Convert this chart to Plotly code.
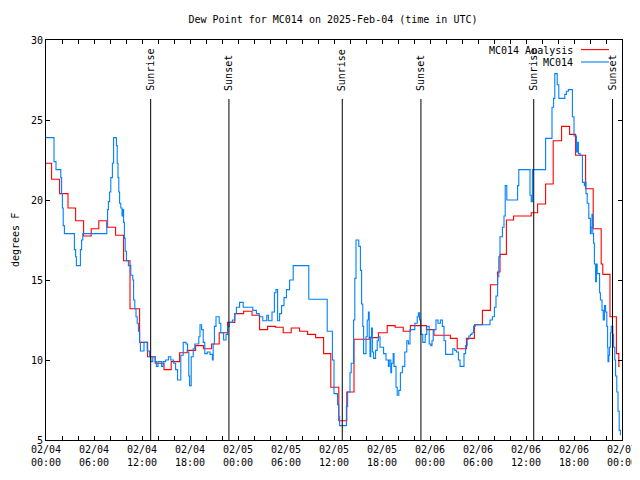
import plotly.graph_objects as go
import pandas as pd

# ---- data (hours after 2025-02-04 00:00 UTC, dew point in deg F) ----
analysis_hours = [0, 0.7, 1.7, 2.75, 3.7, 4.7, 5.65, 6.6, 7.6, 8.7, 9.7, 10.5, 11.7, 12.7,
                  13.65, 14.75, 15.65, 16.7, 17.65, 18.7, 19.7, 20.7, 21.65, 22.7, 23.6,
                  24.7, 25.75, 26.7, 27.7, 28.7, 29.65, 30.65, 31.7, 32.7, 33.7, 34.7,
                  35.6, 36.6, 37.6, 38.5, 40.4, 41.55, 42.65, 43.65, 44.65, 45.55, 47.55,
                  48.5, 50.55, 51.4, 52.55, 53.55, 54.55, 55.55, 56.45, 56.75, 57.55,
                  58.45, 60.65, 61.45, 62.45, 63.4, 64.45, 65.45, 66.2, 67.45, 68.4,
                  69.4, 69.6, 70.5, 71.3, 71.6, 71.7]
analysis_values = [22.3, 21.3, 20.4, 19.5, 18.7, 17.75, 18.2, 18.7, 18.3, 17.8, 16.2, 13.2,
                   11.1, 10.2, 9.8, 9.4, 9.9, 10.45, 10.6, 10.9, 10.7, 11.0, 11.7, 12.35,
                   12.9, 13.05, 12.8, 11.9, 12.1, 12.05, 11.7, 12.0, 11.8, 11.6, 11.4,
                   10.4, 8.3, 6.2, 8.0, 11.3, 11.4, 11.7, 12.15, 12.05, 11.8, 12.15, 11.9,
                   11.55, 11.35, 10.7, 11.35, 12.2, 13.1, 14.7, 15.5, 16.6, 18.75, 19.0,
                   19.2, 19.75, 21.0, 23.7, 24.6, 24.1, 22.8, 20.7, 18.2, 16.0, 15.35,
                   12.7, 10.4, 9.6, 9.6]

station_hours = [0.0, 1.0, 1.25, 1.85, 1.95, 2.05, 2.15, 2.3, 3.55, 3.7, 3.8, 4.3, 4.45, 4.6,
                 7.6, 7.7, 7.8, 7.95, 8.1, 8.3, 8.45, 8.8, 8.9, 9.0, 9.1, 9.2, 9.35, 9.5,
                 9.6, 9.7, 9.8, 9.9, 10.05, 10.3, 10.6, 10.85, 10.95, 11.1, 11.25, 11.4,
                 11.55, 11.7, 11.8, 12.25, 12.65, 12.95, 13.1, 13.35, 13.65, 13.8, 14.0,
                 14.45, 14.65, 14.95, 15.3, 15.6, 15.95, 16.2, 16.45, 16.85, 17.15, 17.5,
                 17.7, 17.85, 17.95, 18.15, 18.4, 18.6, 19.1, 19.25, 19.45, 19.65, 19.85,
                 20.15, 20.5, 20.8, 20.9, 21.05, 21.25, 21.65, 21.85, 22.2, 22.5, 22.7,
                 22.9, 23.3, 23.6, 23.8, 24.2, 24.65, 25.85, 26.3, 26.65, 27.1, 27.6, 27.8,
                 28.25, 28.55, 28.75, 28.95, 29.2, 29.45, 29.75, 30.05, 30.45, 30.9, 32.85,
                 35.15, 35.8, 36.0, 36.45, 36.6, 36.7, 37.55, 37.7, 38.0, 38.15, 38.45,
                 38.6, 38.75, 39.1, 39.3, 39.45, 39.6, 39.7, 40.0, 40.15, 40.3, 40.4, 40.5,
                 40.6, 40.7, 40.8, 40.95, 41.2, 41.4, 41.55, 41.75, 42.2, 42.5, 42.8, 42.9,
                 43.1, 43.2, 43.4, 43.5, 43.75, 43.9, 44.1, 44.3, 44.55, 44.85, 45.1, 45.3,
                 45.5, 46.1, 46.4, 46.55, 46.7, 46.85, 47.1, 47.4, 47.6, 47.9, 48.1, 48.25,
                 48.4, 48.75, 49.0, 49.3, 49.55, 49.75, 49.95, 50.85, 51.1, 51.3, 51.55,
                 51.75, 52.25, 52.45, 52.65, 52.85, 53.05, 53.25, 53.45, 53.65, 55.5, 55.8,
                 56.05, 56.25, 56.45, 56.6, 56.75, 57.05, 57.25, 57.4, 57.6, 58.95, 59.1,
                 60.5, 60.65, 60.8, 62.45, 63.25, 63.45, 63.6, 63.9, 64.1, 64.85, 65.05,
                 65.3, 65.8, 66.0, 66.3, 66.45, 66.55, 66.75, 67.05, 67.3, 67.4, 67.5,
                 67.65, 67.85, 68.05, 68.15, 68.25, 68.35, 68.45, 68.55, 68.7, 68.8, 68.9,
                 69.2, 69.3, 69.5, 69.65, 69.8, 69.95, 70.1, 70.2, 70.25, 70.35, 70.45,
                 70.55, 70.65, 70.85, 70.95, 71.1, 71.2, 71.35, 71.5, 71.65, 71.8]
station_values = [23.9, 22.4, 21.9, 21.4, 20.4, 19.5, 18.4, 17.9, 16.9, 16.45, 15.9, 16.9,
                  17.5, 17.9, 18.3, 19.4, 19.9, 20.5, 21.4, 22.3, 23.9, 23.4, 22.3, 21.4,
                  20.5, 19.8, 19.5, 19.0, 19.4, 18.6, 17.6, 16.8, 16.2, 15.9, 15.3, 15.0,
                  13.75, 13.2, 12.7, 12.3, 11.8, 11.1, 10.56, 11.1, 10.56, 10.2, 9.9, 10.2,
                  9.9, 9.6, 9.9, 9.6, 9.9, 10.0, 10.2, 10.0, 9.8, 9.4, 8.75, 10.3, 11.1,
                  11.0, 10.5, 9.0, 8.4, 10.2, 10.7, 11.0, 11.45, 12.2, 11.9, 11.1, 10.4,
                  10.5, 10.35, 10.0, 11.0, 12.1, 12.7, 12.3, 11.7, 11.25, 11.6, 12.1, 12.35,
                  12.5, 12.9, 13.3, 13.6, 13.3, 13.1, 12.9, 12.7, 12.45, 12.8, 12.45, 13.0,
                  14.2, 14.4, 12.45, 12.9, 13.4, 13.9, 14.4, 15.0, 15.9, 13.8, 11.8, 10.0,
                  7.9, 7.2, 6.45, 5.9, 7.1, 8.0, 9.2, 9.8, 12.5, 15.1, 17.5, 17.1, 15.6,
                  13.5, 12.1, 10.4, 11.45, 12.5, 13.0, 11.45, 10.2, 11.4, 12.0, 10.5, 10.1,
                  10.6, 11.2, 11.45, 10.8, 10.4, 10.0, 9.6, 10.0, 9.2, 9.8, 10.4, 9.6, 8.3,
                  7.8, 8.1, 9.2, 9.6, 10.5, 11.2, 11.0, 11.9, 12.3, 12.7, 12.95, 12.5, 11.6,
                  11.1, 11.6, 12.1, 11.0, 10.9, 11.2, 11.9, 12.5, 12.3, 12.5, 12.1, 11.2,
                  10.35, 10.7, 10.6, 10.5, 10.0, 9.6, 10.4, 10.9, 11.3, 11.5, 11.6, 11.7,
                  12.1, 12.2, 12.5, 12.7, 13.3, 14.0, 15.2, 16.45, 17.7, 18.3, 19.0, 20.9,
                  20.0, 20.9, 21.9, 20.3, 19.9, 21.9, 23.85, 25.8, 26.35, 27.9, 27.2, 26.35,
                  26.6, 26.8, 26.9, 25.2, 24.0, 23.0, 23.6, 22.9, 22.8, 21.1, 20.9, 21.1,
                  20.4, 19.8, 18.85, 17.9, 18.3, 19.1, 17.9, 17.3, 16.0, 14.9, 16.0, 15.4,
                  14.2, 13.75, 13.1, 12.5, 13.4, 13.0, 12.1, 10.8, 9.9, 10.3, 10.8, 11.7,
                  12.1, 11.6, 10.8, 10.0, 9.0, 8.0, 6.8, 5.6, 5.3]

sun_events = ["Sunrise", "Sunset", "Sunrise", "Sunset", "Sunrise", "Sunset"]
sun_times = ["2025-02-04 13:05", "2025-02-04 22:52", "2025-02-05 13:02",
             "2025-02-05 22:52", "2025-02-06 12:58", "2025-02-06 22:49"]

series_names = ["MC014 Analysis", "MC014"]
series_colors = ["#ff0000", "#0080ff"]

tick_times = pd.date_range("2025-02-04 00:00", "2025-02-07 00:00", freq="6h")
tick_text = [t.strftime("%m/%d") + "<br>" + t.strftime("%H:%M") for t in tick_times]

base = pd.Timestamp("2025-02-04 00:00")


def to_time(hours):
    return [base + pd.Timedelta(hours=h) for h in hours]


FONT = "DejaVu Sans Mono"
OFF = 8          # page body margin offset in the browser
W, H = 640 - OFF, 480 - 2 * OFF

fig = go.Figure()
fig.add_trace(go.Scatter(x=to_time(analysis_hours), y=analysis_values, mode="lines",
                         line=dict(color=series_colors[0], width=1.1, shape="hv"),
                         name=series_names[0]))
fig.add_trace(go.Scatter(x=to_time(station_hours), y=station_values, mode="lines",
                         line=dict(color=series_colors[1], width=1.1, shape="hv"),
                         name=series_names[1]))

shapes = []
annotations = []
for ev, tm in zip(sun_events, sun_times):
    shapes.append(dict(type="line", xref="x", yref="paper", x0=tm, x1=tm, y0=0, y1=0.8525,
                       line=dict(color="black", width=1)))
    annotations.append(dict(text=ev, xref="x", yref="paper", x=tm, y=0.8675,
                            textangle=-90, xanchor="center", yanchor="bottom",
                            showarrow=False, font=dict(family=FONT, size=10, color="black")))

# legend (gnuplot style: text then line sample)
leg_y = [0.9745, 0.9435]
for name, col, ly in zip(series_names, series_colors, leg_y):
    annotations.append(dict(text=name, xref="paper", yref="paper", x=0.918, y=ly,
                            xanchor="right", yanchor="middle", showarrow=False,
                            font=dict(family=FONT, size=10, color="black")))
    shapes.append(dict(type="line", xref="paper", yref="paper", x0=0.9288, x1=0.9774,
                       y0=ly + 0.0015, y1=ly + 0.0015, line=dict(color=col, width=1.1)))

annotations.append(dict(text="degrees F", xref="paper", yref="paper", x=(15 - 46) / 576,
                        y=0.5, textangle=-90, xanchor="center", yanchor="middle",
                        showarrow=False, font=dict(family=FONT, size=10, color="black")))

fig.update_layout(
    width=W, height=H,
    margin=dict(l=46 - OFF, r=640 - 622, t=40 - OFF, b=H - (440 - OFF), autoexpand=False),
    paper_bgcolor="white", plot_bgcolor="white",
    showlegend=False,
    font=dict(family=FONT, size=10, color="black"),
    title=dict(text="Dew Point for MC014 on 2025-Feb-04 (time in UTC)",
               x=(333 - OFF) / W, xanchor="center", y=1 - (19 - OFF) / H,
               yanchor="middle",
               font=dict(family=FONT, size=10, color="black")),
    shapes=shapes,
    annotations=annotations,
)
fig.update_xaxes(
    range=["2025-02-04 00:00", "2025-02-07 00:00"],
    tickvals=list(tick_times), ticktext=tick_text,
    ticklabeloverflow="allow",
    ticks="inside", ticklen=4, tickcolor="black",
    minor=dict(dtick=2 * 3600 * 1000, ticks="inside", ticklen=4, tickcolor="black"),
    showline=True, linecolor="black", linewidth=1, mirror="ticks",
    showgrid=False, zeroline=False,
    tickfont=dict(family=FONT, size=10, color="black"),
)
fig.update_yaxes(
    range=[5, 30], dtick=5, tick0=5,
    ticks="inside", ticklen=4, tickcolor="black",
    showline=True, linecolor="black", linewidth=1, mirror="ticks",
    showgrid=False, zeroline=False,
    tickfont=dict(family=FONT, size=10, color="black"),
)

fig.write_html("out.html")
